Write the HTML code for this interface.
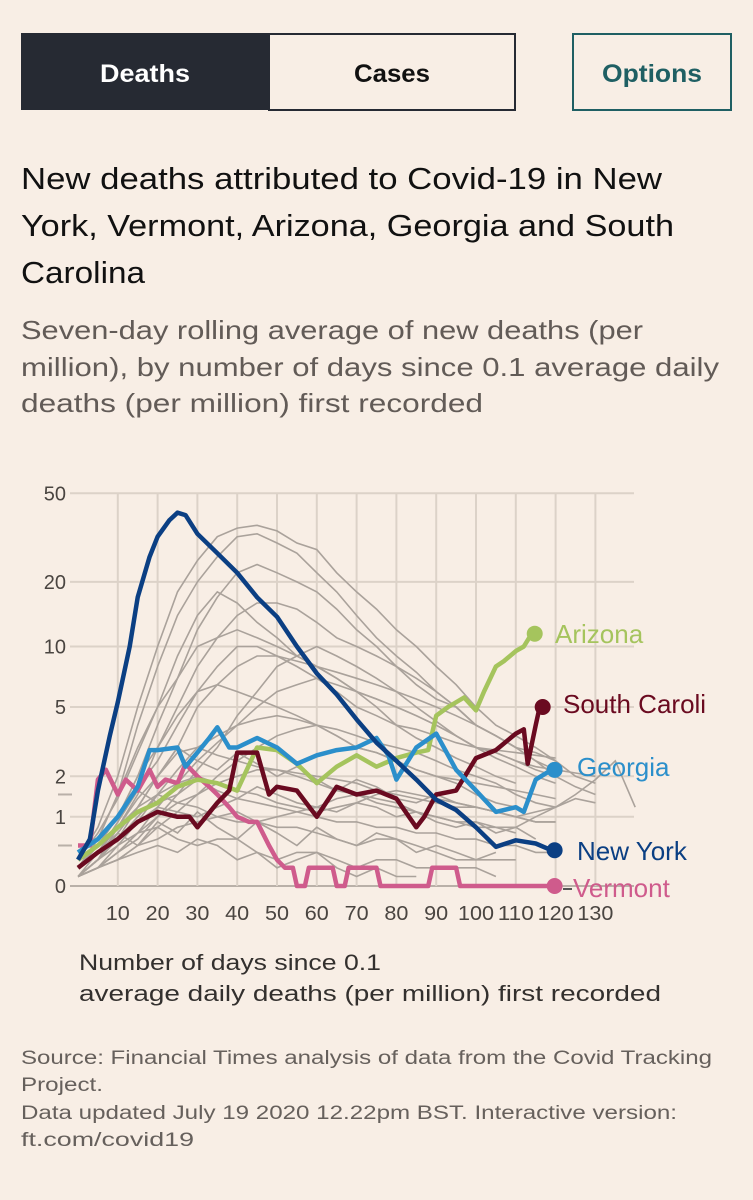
<!DOCTYPE html>
<html><head><meta charset="utf-8">
<style>
html,body{margin:0;padding:0;background:#f8eee5;}
svg{display:block;font-family:"Liberation Sans",sans-serif;}
</style></head>
<body>
<svg id="root" width="753" height="1200" viewBox="0 0 753 1200" xmlns="http://www.w3.org/2000/svg">
<rect width="753" height="1200" fill="#f8eee5"/>
<g>
<rect x="21" y="33" width="248" height="77" fill="#262a33"/>
<text x="145" y="82" text-anchor="middle" font-size="25" font-weight="bold" fill="#fff" textLength="90" lengthAdjust="spacingAndGlyphs">Deaths</text></g>
<g>
<rect x="269" y="34" width="246" height="76" fill="none" stroke="#262a33" stroke-width="2"/>
<text x="392" y="82" text-anchor="middle" font-size="25" font-weight="bold" fill="#111" textLength="76" lengthAdjust="spacingAndGlyphs">Cases</text></g>
<g>
<rect x="573" y="34" width="158" height="76" fill="none" stroke="#1f5f63" stroke-width="2"/>
<text x="652" y="82" text-anchor="middle" font-size="25" font-weight="bold" fill="#1f5f63" textLength="100" lengthAdjust="spacingAndGlyphs">Options</text></g>

<g font-size="31" fill="#111">
<text x="21" y="189" textLength="641" lengthAdjust="spacingAndGlyphs">New deaths attributed to Covid-19 in New</text>
<text x="21" y="236" textLength="653" lengthAdjust="spacingAndGlyphs">York, Vermont, Arizona, Georgia and South</text>
<text x="21" y="283" textLength="124" lengthAdjust="spacingAndGlyphs">Carolina</text></g>
<g font-size="26" fill="#625b57">
<text x="21" y="339" textLength="622" lengthAdjust="spacingAndGlyphs">Seven-day rolling average of new deaths (per</text>
<text x="21" y="376" textLength="698" lengthAdjust="spacingAndGlyphs">million), by number of days since 0.1 average daily</text>
<text x="21" y="412" textLength="462" lengthAdjust="spacingAndGlyphs">deaths (per million) first recorded</text></g>

<g id="grid"></g>
<g id="gray"></g>
<g id="hl"></g>
<g id="axes"></g>

<g font-size="22" fill="#33302e">
<text x="79" y="970" textLength="302" lengthAdjust="spacingAndGlyphs">Number of days since 0.1</text>
<text x="79" y="1001" textLength="582" lengthAdjust="spacingAndGlyphs">average daily deaths (per million) first recorded</text></g>
<g font-size="19" fill="#66605c">
<text x="21" y="1064" textLength="691" lengthAdjust="spacingAndGlyphs">Source: Financial Times analysis of data from the Covid Tracking</text>
<text x="21" y="1091" textLength="82" lengthAdjust="spacingAndGlyphs">Project.</text>
<text x="21" y="1119" textLength="656" lengthAdjust="spacingAndGlyphs">Data updated July 19 2020 12.22pm BST. Interactive version:</text>
<text x="21" y="1146" textLength="173" lengthAdjust="spacingAndGlyphs">ft.com/covid19</text></g>
</svg>
<script>
// ---- data ----
const yTicks = [0, 1, 2, 5, 10, 20, 50];
const xTicks = [10, 20, 30, 40, 50, 60, 70, 80, 90, 100, 110, 120, 130];
// highlighted series: [day, value]
const newYorkDays = [0,3,5,8,10,13,15,18,20,23,25,27,30,35,40,45,50,55,60,65,70,75,80,85,90,95,100,105,110,115,119];
const newYorkVals = [0.3,0.6,1.6,3.5,5.3,10,17,26,32,38,41,40,33,27,22,17,13.8,10,7.4,5.8,4.3,3.2,2.5,1.9,1.37,1.14,0.8,0.48,0.58,0.53,0.43];
const georgiaDays = [0,5,10,15,18,20,25,27,30,33,35,38,40,45,50,55,60,65,70,75,78,80,85,90,95,100,105,110,112,115,119];
const georgiaVals = [0.4,0.6,1.0,1.7,2.9,2.9,3.0,2.3,2.8,3.4,3.9,3.0,3.0,3.4,3.0,2.4,2.7,2.9,3.0,3.4,2.7,1.9,3.0,3.6,2.2,1.6,1.1,1.2,1.1,1.9,2.2];
const arizonaDays = [0,5,10,15,20,25,30,35,40,45,50,55,60,65,70,75,80,85,88,90,93,97,100,102,105,107,110,112,114];
const arizonaVals = [0.3,0.5,0.8,1.1,1.3,1.7,1.9,1.8,1.6,3.0,2.9,2.4,1.8,2.3,2.7,2.3,2.6,2.8,2.9,4.5,5.0,5.6,4.8,6.0,8.0,8.5,9.5,10,11.5];
const scDays = [0,5,10,15,20,25,28,30,35,38,40,45,48,50,55,60,65,70,75,80,85,87,90,95,100,105,110,112,113,115,116];
const scVals = [0.2,0.4,0.6,0.9,1.1,1.0,1.0,0.8,1.3,1.6,2.8,2.8,1.5,1.7,1.6,1.0,1.7,1.5,1.6,1.4,0.8,1.0,1.5,1.6,2.6,2.9,3.6,3.8,2.4,4.0,5.0];
const vermontDays = [0,3,5,7,10,12,15,18,20,22,25,27,30,33,35,38,40,43,45,48,50,52,54,55,57,58,64,65,67,68,75,76,88,89,95,96,119];
const vermontVals = [0.5,0.5,1.9,2.2,1.5,1.9,1.6,2.2,1.7,1.9,1.8,2.4,2.0,1.7,1.5,1.2,1.0,0.9,0.9,0.5,0.3,0.2,0.2,0,0,0.2,0.2,0,0,0.2,0.2,0,0,0.2,0.2,0,0];
// other states, every 5 days from day 0
const g1 = [0.2,0.6,1.5,4,8,14,20,26,32,33,30,27,22,18,14,11,9,7.5,6,5,4,3.5,3,2.5,2,1.7,1.5];
const g2 = [0.3,0.8,2,5,10,18,25,32,35,36,34,30,28,22,18,15,12,10,8,6.5,5,4,3.5,3,2.5];
const g3 = [0.2,0.5,1,2,4,7,12,17,22,24,22,20,18,15,12,10,8,6.5,5.5,5,4,3.5,3,2.8,2.5,2,1.8];
const g4 = [0.1,0.3,0.8,1.5,3,5,8,11,14,16,16,15,13,11,10,9,8,7,6,5,4,3.5,3,2.5,2.2];
const g5 = [0.2,0.6,1.5,3,5,7,10,11,12,11,10,9,8,7,6,5.5,5,4.5,4,3.5,3,2.8,2.5,2.2,2];
const g6 = [0.1,0.3,0.6,1.2,2,3,5,6.5,8,9,9,8.5,8,7.5,7,6.5,6,5.5,5,4.5,4,3.5,3];
const g7 = [0.2,0.5,1,2,3,4.5,6,6.5,6,5.5,5,4.5,4,3.8,3.5,3.2,3,2.8,2.5,2.2,2,1.8,1.5,1.3,1.2];
const g8 = [0.1,0.2,0.5,0.9,1.5,2.2,3,3.5,4,4.3,4.5,4.3,4,3.5,3,2.8,2.5,2.2,2,1.8,1.5,1.3,1.2];
const g9 = [0.2,0.4,0.8,1.4,2,2.8,3,2.7,2.5,2.3,2.2,2.1,2,1.9,1.8,1.6,1.5,1.4,1.3,1.2,1.2,1.1,1.0,0.9,0.9];
const g10 = [0.1,0.2,0.4,0.7,1,1.3,1.5,1.8,2,2.2,2.2,2.0,1.8,1.6,1.5,1.3,1.2,1.1,1.0,0.9,0.8,0.8,0.7];
const g11 = [0.1,0.3,0.6,0.9,1.2,1.1,1.0,1.2,1.4,1.3,1.2,1.1,1.0,0.9,0.9,0.8,0.8,0.7,0.7,0.6,0.6,0.5,0.5,0.4,0.4];
const g12 = [0.1,0.2,0.3,0.5,0.6,0.8,0.9,1.0,1.1,0.9,0.8,0.8,0.7,0.6,0.5,0.6,0.6,0.5,0.4,0.3,0.3,0.3,0.3];
const g13 = [0.1,0.3,0.5,0.7,0.8,0.6,0.5,0.6,0.6,0.4,0.3,0.4,0.4,0.3,0.2,0.3,0.3,0.2,0.2,0.2,0.2,0.1];
const g14 = [0.2,0.5,1,1.7,2.5,4,6,8,10,10,9,8,7,6,5,4.5,4,3.8,3.5,3.2,3,2.9,2.8,2.7,2.6];
const g15 = [0.1,0.2,0.4,0.7,1.2,1.8,2.5,3.2,4,5,6,6.5,7,6.5,6,5.5,5,4.5,4,3.5,3,2.8,2.5,2.3,2.2,2.1,2];
const g16 = [0.1,0.2,0.3,0.5,0.8,1.1,1.5,2,2.5,3,3.5,3.8,4,3.5,3,2.8,2.5,2.2,2,1.9,1.8,1.7,1.6,1.5,1.4];
const g17 = [0.1,0.3,0.6,1.0,1.5,1.3,1.2,1.0,0.9,0.9,1.0,1.1,1.2,1.4,1.5,1.4,1.3,1.1,1.0,0.9,0.9,0.8,0.8,1.0,1.2,1.5,1.9,2.5,1.2];
const g18 = [0.2,0.5,0.8,1.2,1.5,1.8,2,1.8,1.6,1.5,1.3,1.2,1.1,1.2,1.3,1.5,1.6,1.5,1.4,1.3,1.2,1.1,1.0,0.9,0.9];
const g19 = [0.3,0.7,1.4,2.8,5,9,14,18,16,13,11,9,8,7,6,5,4,3.4,3,2.6,2.3,2,1.8];
const g20 = [0.1,0.2,0.4,0.6,1,1.5,2.2,3,4.5,6,8,9,10,9,8,7,6,5,4.2,3.5,3,2.6,2.3,2,1.8];
const g21 = [0.1,0.4,0.9,1.6,1.3,1.5,1.9,1.6,1.4,1.7,1.5,1.3,1.2,1.1,1.3,1.2,1.0,1.1,0.9,0.8,0.9,0.7,0.8,0.6];
const g22 = [0.2,0.4,0.7,0.5,0.9,0.7,1.1,0.8,0.6,0.9,0.7,0.5,0.8,0.6,0.5,0.7,0.6,0.4,0.5,0.4,0.3,0.4];
const g23 = [0.1,0.3,0.7,1.2,2,3,2.5,2.2,2.8,2.4,2.0,2.3,1.9,1.6,1.9,1.7,1.4,1.3,1.5,1.3,1.2,1.1,1.0,1.1,1.2,1.4,1.3];
const g24 = [0.1,0.2,0.3,0.4,0.5,0.4,0.6,0.5,0.3,0.4,0.2,0.3,0.4,0.2,0.1,0.2,0.1,0.1];
const grays = [g1,g2,g3,g4,g5,g6,g7,g8,g9,g10,g11,g12,g13,g14,g15,g16,g17,g18,g19,g20,g21,g22,g23,g24];

// ---- scales ----
const NS = "http://www.w3.org/2000/svg";
function xScale(d){ return 78 + 3.98 * d; }
function yScale(v){ return 886 - 230 * Math.log10(1 + v); }
function mk(tag, attrs, parent){ const e = document.createElementNS(NS, tag); for (const k in attrs) e.setAttribute(k, attrs[k]); parent.appendChild(e); return e; }

const grid = document.getElementById('grid');
const axes = document.getElementById('axes');
yTicks.forEach(t => {
  const ln = mk('line', {x1:70, x2:634, y1:yScale(t), y2:yScale(t), stroke: t===0 ? '#b9b0a8' : '#dcd2c8', 'stroke-width':2}, grid);
  
  
  const tx = mk('text', {x:66, y:yScale(t)+7, 'text-anchor':'end', 'font-size':20, fill:'#4a4541'}, axes);
  tx.textContent = t;
  
  
});
[0.5, 1.5].forEach(t => {
  const ln = mk('line', {x1:58, x2:72, y1:yScale(t), y2:yScale(t), stroke:'#b9b0a8', 'stroke-width':2}, grid);
  
  
});
xTicks.forEach(t => {
  const ln = mk('line', {x1:xScale(t), x2:xScale(t), y1:yScale(50), y2:886, stroke:'#dcd2c8', 'stroke-width':2}, grid);
  
  
  const tx = mk('text', {x:xScale(t), y:920, 'text-anchor':'middle', 'font-size':20, fill:'#4a4541', textLength: t>=100 ? 36 : 24, lengthAdjust:'spacingAndGlyphs'}, axes);
  tx.textContent = t;
  
  
});

const gray = document.getElementById('gray');
grays.forEach(s => {
  const pts = s.map((v,i) => xScale(i*5).toFixed(1) + ',' + yScale(v).toFixed(1)).join(' ');
  const pl = mk('polyline', {points:pts, fill:'none', stroke:'#aaa29b', 'stroke-width':1.6}, gray);
  
  
});

const hl = document.getElementById('hl');
const series = [
  {name:'vermont', days:vermontDays, vals:vermontVals, color:'#cf5b8c', label:'Vermont', lx:573, ly:897},
  {name:'arizona', days:arizonaDays, vals:arizonaVals, color:'#a5c45d', label:'Arizona', lx:555, ly:643},
  {name:'south-carolina', days:scDays, vals:scVals, color:'#6a0a20', label:'South Caroli', lx:563, ly:713},
  {name:'georgia', days:georgiaDays, vals:georgiaVals, color:'#2b8fcb', label:'Georgia', lx:577, ly:776},
  {name:'new-york', days:newYorkDays, vals:newYorkVals, color:'#0b3f83', label:'New York', lx:577, ly:860}
];
series.forEach(s => {
  const pts = s.days.map((d,i) => xScale(d).toFixed(1) + ',' + yScale(s.vals[i]).toFixed(1)).join(' ');
  const pl = mk('polyline', {points:pts, fill:'none', stroke:s.color, 'stroke-width':4.5, 'stroke-linejoin':'round'}, hl);
  
  
  const n = s.days.length - 1;
  const cx = xScale(s.days[n]) + 3, cy = yScale(s.vals[n]);
  const c = mk('circle', {cx:cx, cy:cy, r:8, fill:s.color}, hl);
  
  
  if (s.name === 'vermont') {
    const d = mk('line', {x1:563, x2:572, y1:889, y2:889, stroke:'#555', 'stroke-width':2}, hl);
    
    
  }
  const t = mk('text', {x:s.lx, y:s.ly, 'font-size':26, fill:s.color}, hl);
  t.textContent = s.label;
  
  
});
</script>
</body></html>
